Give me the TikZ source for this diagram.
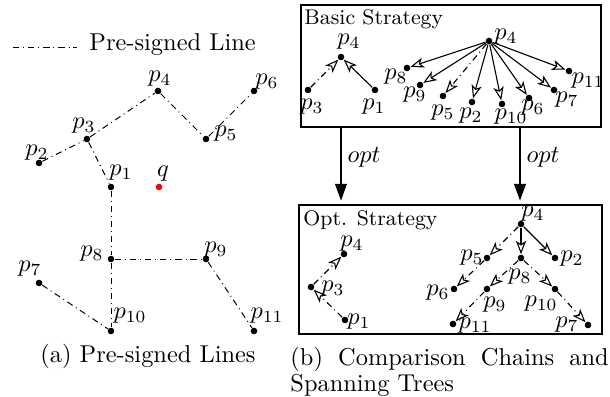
\documentclass[tikz,border=0pt]{standalone}
\usetikzlibrary{arrows.meta}
\begin{document}
\begin{tikzpicture}[x=0.41pt,y=-0.41pt,
  pt/.style={circle,fill=black,inner sep=0pt,minimum size=2.7pt},
  qpt/.style={circle,fill=red,inner sep=0pt,minimum size=2.7pt},
  lbl/.style={inner sep=0pt},
  ttl/.style={inner sep=0pt,font=\fontsize{8.7}{10}\selectfont},
  dd/.style={dash pattern=on 2.6pt off 1.6pt on 0.4pt off 1.6pt},
  oa/.style={line width=0.45pt,-{Stealth[open,length=5.5pt,width=4.2pt,inset=1.4pt]}},
  big/.style={line width=1.2pt,-{Triangle[length=7pt,width=4.6pt]}},
  panel/.style={draw,line width=0.6pt}]
\useasboundingbox (0,0) rectangle (610,397);

% ---------------- (a) ----------------
\coordinate (lg1) at (13,47);
\coordinate (lg2) at (77,47);
\draw[dd] (lg1) -- (lg2);
\node[lbl,anchor=west] (lgt) at (89,45) {Pre-signed Line};

\node[pt] (a4) at (158,91) {};
\node[pt] (a6) at (254,91) {};
\node[pt] (a3) at (87,139) {};
\node[pt] (a5) at (206,139) {};
\node[pt] (a2) at (39,163) {};
\node[pt] (a1) at (111,187) {};
\node[qpt] (aq) at (159,187) {};
\node[pt] (a8) at (111,259) {};
\node[pt] (a9) at (206,259) {};
\node[pt] (a7) at (39,283) {};
\node[pt] (a10) at (111,331) {};
\node[pt] (a11) at (254,331) {};

\node[lbl] (la4) at (160,79) {$p_4$};
\node[lbl] (la6) at (267,82) {$p_6$};
\node[lbl] (la3) at (84,126) {$p_3$};
\node[lbl] (la5) at (226,134) {$p_5$};
\node[lbl] (la2) at (37,153) {$p_2$};
\node[lbl] (la1) at (121,173) {$p_1$};
\node[lbl] (laq) at (163,174) {$q$};
\node[lbl] (la8) at (92,254) {$p_8$};
\node[lbl] (la9) at (216,250) {$p_9$};
\node[lbl] (la7) at (30,269) {$p_7$};
\node[lbl] (la10) at (130,316) {$p_{10}$};
\node[lbl] (la11) at (267,316) {$p_{11}$};

\draw[dd] (a2) -- (a3);
\draw[dd] (a3) -- (a4);
\draw[dd] (a4) -- (a5);
\draw[dd] (a5) -- (a6);
\draw[dd] (a3) -- (a1);
\draw[dd] (a1) -- (a8);
\draw[dd] (a8) -- (a10);
\draw[dd] (a8) -- (a9);
\draw[dd] (a9) -- (a11);
\draw[dd] (a7) -- (a10);

\node[lbl] (capa) at (148,356) {(a) Pre-signed Lines};

% ---------------- (b) top box ----------------
\coordinate (t1) at (301,5);
\coordinate (t2) at (601,127);
\draw[panel] (t1) rectangle (t2);
\node[ttl,anchor=north west] (tt) at (304,9) {Basic Strategy};

\node[pt] (b4) at (341,57) {};
\node[pt] (b3) at (308,90) {};
\node[pt] (b1) at (375,90) {};
\node[lbl] (lb4) at (349,42) {$p_4$};
\node[lbl] (lb3) at (312,107) {$p_3$};
\node[lbl] (lb1) at (374,107) {$p_1$};
\draw[dd,oa] (b3) -- (b4);
\draw[oa] (b1) -- (b4);

\node[pt] (c4) at (489,41) {};
\node[pt] (c8) at (407,68) {};
\node[pt] (c11) at (569,71) {};
\node[pt] (c9) at (420,85) {};
\node[pt] (c7) at (554,90) {};
\node[pt] (c5) at (443,96) {};
\node[pt] (c6) at (529,98) {};
\node[pt] (c2) at (472,102) {};
\node[pt] (c10) at (502,104) {};
\node[lbl] (lc4) at (506,37) {$p_4$};
\node[lbl] (lc8) at (396,77) {$p_8$};
\node[lbl] (lc9) at (415,95) {$p_9$};
\node[lbl] (lc5) at (443,113) {$p_5$};
\node[lbl] (lc2) at (471,116) {$p_2$};
\node[lbl] (lc10) at (511,117) {$p_{10}$};
\node[lbl] (lc6) at (533,108) {$p_6$};
\node[lbl] (lc7) at (567,100) {$p_7$};
\node[lbl] (lc11) at (588,81) {$p_{11}$};
\draw[oa] (c4) -- (c8);
\draw[oa] (c4) -- (c9);
\draw[dd,oa] (c4) -- (c5);
\draw[oa] (c4) -- (c2);
\draw[oa] (c4) -- (c10);
\draw[oa] (c4) -- (c6);
\draw[oa] (c4) -- (c7);
\draw[oa] (c4) -- (c11);

% ---------------- arrows between boxes ----------------
\coordinate (o1s) at (341,127);
\coordinate (o1e) at (341,201);
\coordinate (o2s) at (520,127);
\coordinate (o2e) at (520,201);
\draw[big] (o1s) -- (o1e);
\draw[big] (o2s) -- (o2e);
\node[lbl] (opt1) at (364,157) {$opt$};
\node[lbl] (opt2) at (543,157) {$opt$};

% ---------------- (b) bottom box ----------------
\coordinate (u1) at (299,205);
\coordinate (u2) at (602,334);
\draw[panel] (u1) rectangle (u2);
\node[ttl,anchor=north west] (ut) at (303,210) {Opt. Strategy};

\node[pt] (d4) at (344,254) {};
\node[pt] (d3) at (311,287) {};
\node[pt] (d1) at (345,320) {};
\node[lbl] (ld4) at (352,244) {$p_4$};
\node[lbl] (ld3) at (333,289) {$p_3$};
\node[lbl] (ld1) at (359,322) {$p_1$};
\draw[dd,oa] (d1) -- (d3);
\draw[dd,oa] (d3) -- (d4);

\node[pt] (e4) at (521,224) {};
\node[pt] (e5) at (487,258) {};
\node[pt] (e8) at (521,258) {};
\node[pt] (e2) at (555,258) {};
\node[pt] (e6) at (454,289) {};
\node[pt] (e9) at (487,289) {};
\node[pt] (e10) at (555,289) {};
\node[pt] (e11) at (453,324) {};
\node[pt] (e7) at (588,325) {};
\node[lbl] (le4) at (533,214) {$p_4$};
\node[lbl] (le5) at (472,258) {$p_5$};
\node[lbl] (le8) at (520,277) {$p_8$};
\node[lbl] (le2) at (572,259) {$p_2$};
\node[lbl] (le6) at (438,293) {$p_6$};
\node[lbl] (le9) at (495,305) {$p_9$};
\node[lbl] (le10) at (541,304) {$p_{10}$};
\node[lbl] (le11) at (475,326) {$p_{11}$};
\node[lbl] (le7) at (567,325) {$p_7$};
\draw[dd,oa] (e4) -- (e5);
\draw[oa] (e4) -- (e8);
\draw[oa] (e4) -- (e2);
\draw[dd,oa] (e5) -- (e6);
\draw[dd,oa] (e8) -- (e9);
\draw[dd,oa] (e8) -- (e10);
\draw[dd,oa] (e9) -- (e11);
\draw[dd,oa] (e10) -- (e7);

\node[lbl,anchor=north west,text width=130.5pt,align=justify] (capb) at (290,347)
  {\fontsize{10}{9.4}\selectfont (b) Comparison Chains and Spanning Trees\par};
\end{tikzpicture}
\end{document}
